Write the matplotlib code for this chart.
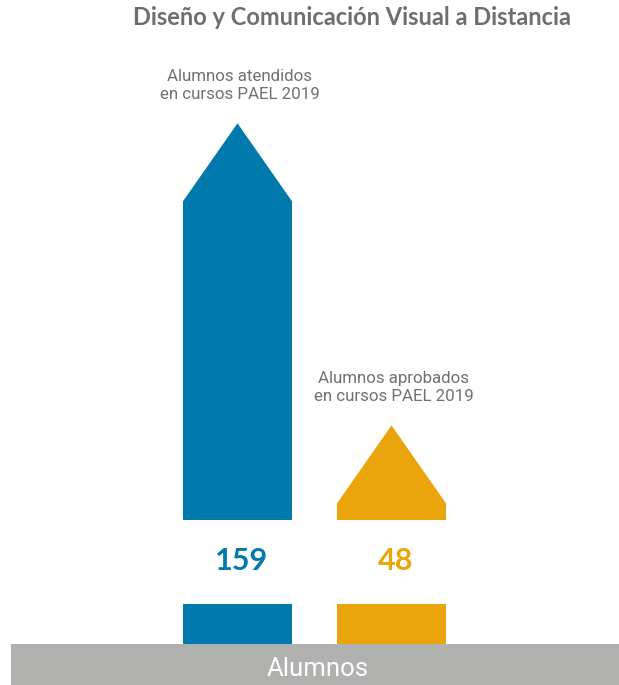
import matplotlib.pyplot as plt
from matplotlib.patches import Polygon, Rectangle

# data
categories = ["Alumnos atendidos\nen cursos PAEL 2019",
              "Alumnos aprobados\nen cursos PAEL 2019"]
values = [159, 48]
colors = ["#007aad", "#eba50c"]
title = "Diseño y Comunicación Visual a Distancia"
axis_label = "Alumnos"

fig = plt.figure(figsize=(6.19, 6.85), dpi=100)
ax = fig.add_axes([0, 0, 1, 1])
ax.set_axis_off()

# one value unit in pixels, so shape offsets can be given in px
px = 1 / 2.7214
ax.set_xlim(-1.542, 2.477)
ax.set_ylim(-129 * px, 556 * px)

width = 0.708
tip = 78 * px          # height of the arrow head
gap_top = 36 * px      # body ends here (above zero)
stub_top = -48 * px    # lower stub starts here
base = -88 * px        # top of the grey band
bottom = -129 * px     # bottom of the figure

for i, (cat, val, col) in enumerate(zip(categories, values, colors)):
    left, right = i - width / 2, i + width / 2
    # arrow body with head
    pts = [(left, gap_top), (left, val - tip), (i, val),
           (right, val - tip), (right, gap_top)]
    ax.add_patch(Polygon(pts, closed=True, fc=col, ec="none"))
    # stub under the number
    ax.add_patch(Rectangle((left, base), width, stub_top - base, fc=col, ec="none"))
    # number
    ax.text(i + 0.025, -3 * px, str(val), ha="center", va="center_baseline", color=col,
            fontsize=22, fontweight="bold", family="Lato")
    # label above the head
    ax.text(i + 0.015, val + 21 * px, cat, ha="center", va="bottom",
            color="#707070", fontsize=12.2, family="Roboto", linespacing=1.3)

# grey band
ax.add_patch(Rectangle((-1.471, bottom), 5, base - bottom, fc="#b1b1b0", ec="none"))
ax.text(0.524, base - 22 * px, axis_label, ha="center", va="center_baseline",
        color="white", fontsize=18.5, family="Roboto")

fig.text(0.568, 0.974, title, ha="center", va="center", color="#6e6e6e",
         fontsize=17, fontweight="bold", family="Lato")

fig.savefig("out.png", dpi=100)
